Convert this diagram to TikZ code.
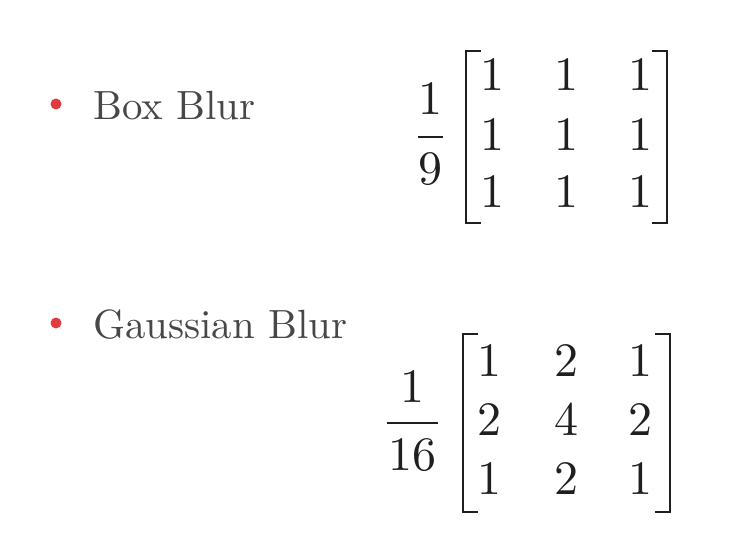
\documentclass[tikz,border=0pt]{standalone}
\usepackage{fontspec}
\setmainfont{lmroman10-regular}[Extension=.otf]
\definecolor{bulred}{HTML}{E23B3F}
\begin{document}
\begin{tikzpicture}[x=1pt,y=-1pt,
  label/.style={inner sep=0pt,anchor=base west,text=black!72,font=\fontsize{40.8}{48}\selectfont},
  num/.style={inner sep=0pt,anchor=base,text=black!88,font=\fontsize{48}{56}\selectfont},
  bul/.style={circle,fill=bulred,inner sep=0pt,minimum size=11pt},
  brk/.style={line width=2.6pt,draw=black!88},
  frule/.style={line width=2pt,draw=black!88}]
\useasboundingbox (0,0) rectangle (747,559);
% Box blur
\node[bul] (b1) at (56,104) {};
\node[label] (t1) at (93,120) {Box Blur};
\node[num] (f1n) at (430,115) {1};
\node[num] (f1d) at (430,184) {9};
\coordinate (f1l) at (418,137); \coordinate (f1r) at (443,137);
\draw[frule] (f1l) -- (f1r);
\foreach \r/\y in {1/91,2/150,3/207}{
  \foreach \c/\x in {1/492,2/566,3/640}{
    \node[num] (m1-\r-\c) at (\x,\y) {1};
  }}
\coordinate (l1a) at (481,51); \coordinate (l1b) at (466,51);
\coordinate (l1c) at (466,223); \coordinate (l1d) at (481,223);
\draw[brk] (l1a) -- (l1b) -- (l1c) -- (l1d);
\coordinate (r1a) at (652,51); \coordinate (r1b) at (667,51);
\coordinate (r1c) at (667,223); \coordinate (r1d) at (652,223);
\draw[brk] (r1a) -- (r1b) -- (r1c) -- (r1d);
% Gaussian blur
\node[bul] (b2) at (56,323) {};
\node[label] (t2) at (93,338) {Gaussian Blur};
\node[num] (f2n) at (412,402) {1};
\node[num] (f2d) at (412,470) {16};
\coordinate (f2l) at (387,423); \coordinate (f2r) at (438,423);
\draw[frule] (f2l) -- (f2r);
\node[num] (g11) at (489,376) {1};
\node[num] (g12) at (566,376) {2};
\node[num] (g13) at (640,376) {1};
\node[num] (g21) at (489,435) {2};
\node[num] (g22) at (566,435) {4};
\node[num] (g23) at (640,435) {2};
\node[num] (g31) at (489,494) {1};
\node[num] (g32) at (566,494) {2};
\node[num] (g33) at (640,494) {1};
\coordinate (l2a) at (478,334); \coordinate (l2b) at (463,334);
\coordinate (l2c) at (463,512); \coordinate (l2d) at (478,512);
\draw[brk] (l2a) -- (l2b) -- (l2c) -- (l2d);
\coordinate (r2a) at (655,334); \coordinate (r2b) at (670,334);
\coordinate (r2c) at (670,512); \coordinate (r2d) at (655,512);
\draw[brk] (r2a) -- (r2b) -- (r2c) -- (r2d);
\end{tikzpicture}
\end{document}
